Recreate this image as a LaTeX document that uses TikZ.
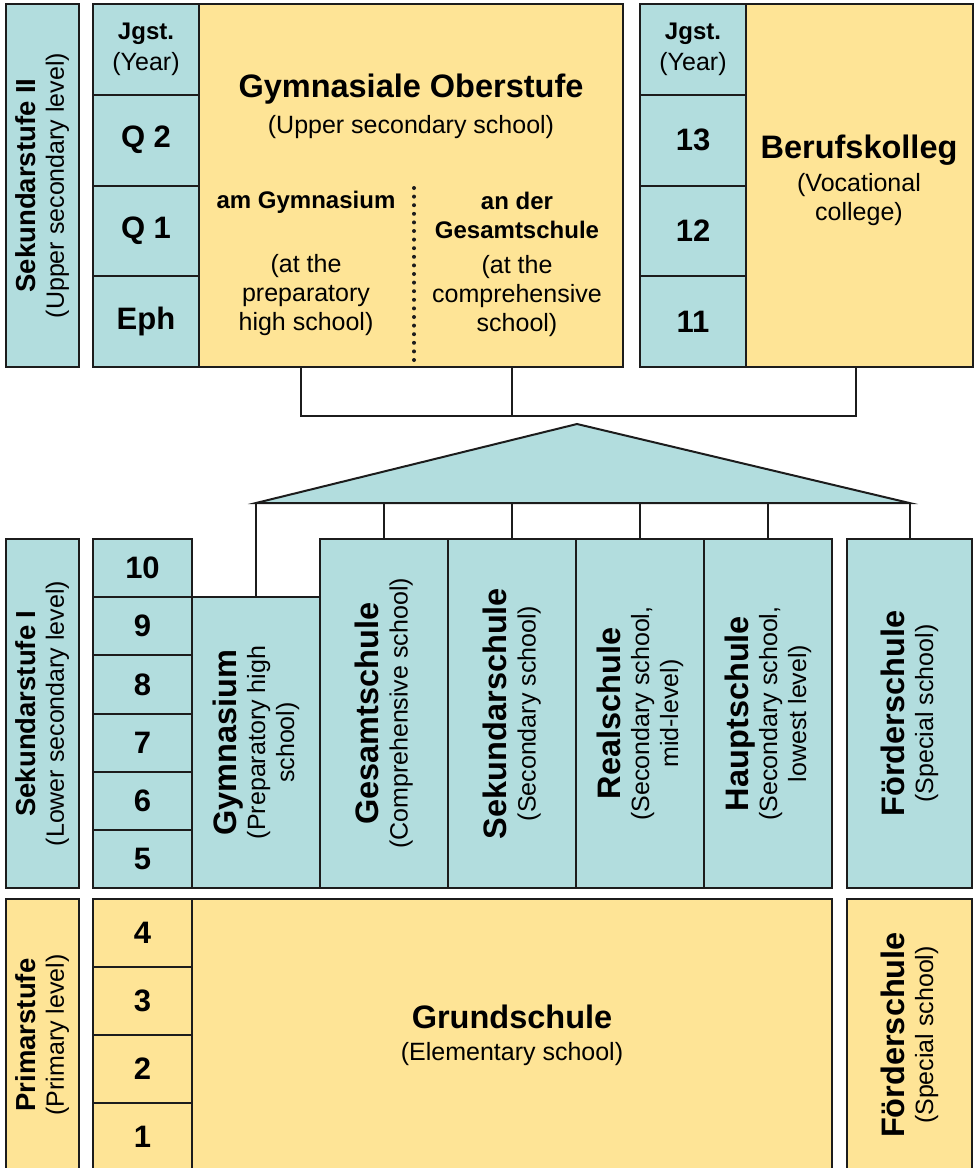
\documentclass[tikz,border=0pt]{standalone}
\usepackage{fontspec}
\setmainfont{Liberation Sans}
\usetikzlibrary{positioning}

\definecolor{tealfill}{RGB}{178,221,222}
\definecolor{sandfill}{RGB}{254,228,150}
\definecolor{edge}{RGB}{28,28,28}

\newcommand{\plainfont}{\fontsize{25}{29}\selectfont}
\newcommand{\headfont}{\fontsize{32.5}{36}\selectfont\bfseries}
\newcommand{\labelfont}{\fontsize{27.5}{31}\selectfont\bfseries}
\newcommand{\midfont}{\fontsize{24}{29}\selectfont\bfseries}
\newcommand{\numfont}{\fontsize{31}{36}\selectfont\bfseries}

\tikzset{
  box/.style={draw=edge,line width=2pt,outer sep=0pt,inner sep=0pt,align=center,font=\plainfont},
  tealbox/.style={box,fill=tealfill},
  sandbox/.style={box,fill=sandfill},
  yearbox/.style={tealbox,font=\numfont},
  txt/.style={align=center,inner sep=0pt,font=\plainfont},
  link/.style={draw=edge,line width=2pt}
}

\begin{document}
\begin{tikzpicture}[x=1pt,y=-1pt]
  \useasboundingbox (0,0) rectangle (979,1168);
  \clip (0,0) rectangle (979,1168);

  % Sekundarstufe II
  \node[tealbox,rotate=90,minimum width=363,minimum height=73] (sek2) at (42.5,185.5)
    {{\labelfont Sekundarstufe II}\\[-1pt](Upper secondary level)};
  \node[tealbox,anchor=north west,minimum width=106,minimum height=90.75] (jgA) at (93,4)
    {{\midfont Jgst.}\\[2pt](Year)};
  \node[yearbox,below=0pt of jgA,minimum width=106,minimum height=90.75] (q2) {Q 2};
  \node[yearbox,below=0pt of q2,minimum width=106,minimum height=90.75] (q1) {Q 1};
  \node[yearbox,below=0pt of q1,minimum width=106,minimum height=90.75] (eph) {Eph};
  \node[sandbox,anchor=north west,minimum width=424,minimum height=363] (gos) at (199,4) {};
  \node[txt] (gostitle) at (411,106) {{\headfont Gymnasiale Oberstufe}\\[7pt](Upper secondary school)};
  \node[txt,font=\midfont] (amgym) at (306,202) {am Gymnasium};
  \node[txt] (amgymen) at (306,295) {(at the\\preparatory\\high school)};
  \node[txt,font=\midfont] (anges) at (517,215) {an der\\Gesamtschule};
  \node[txt] (angesen) at (517,296) {(at the\\comprehensive\\school)};
  \draw[edge,line width=4pt,line cap=round,dash pattern=on 0pt off 8.6pt] (414,188) -- (414,361);

  \node[tealbox,anchor=north west,minimum width=106,minimum height=90.75] (jgB) at (640,4)
    {{\midfont Jgst.}\\[2pt](Year)};
  \node[yearbox,below=0pt of jgB,minimum width=106,minimum height=90.75] (y13) {13};
  \node[yearbox,below=0pt of y13,minimum width=106,minimum height=90.75] (y12) {12};
  \node[yearbox,below=0pt of y12,minimum width=106,minimum height=90.75] (y11) {11};
  \node[sandbox,anchor=north west,minimum width=227,minimum height=363] (bk) at (746,4) {};
  \node[txt] (bktitle) at (859,180) {{\headfont Berufskolleg}\\[4pt](Vocational\\college)};

  % join lines
  \coordinate (joinL) at (301,416);
  \coordinate (joinM) at (512,416);
  \coordinate (joinR) at (856,416);
  \draw[link] (joinL |- gos.south) -- (joinL) -- (joinR) -- (joinR |- bk.south);
  \draw[link] (joinM |- gos.south) -- (joinM);

  % Sekundarstufe I
  \node[tealbox,rotate=90,minimum width=349,minimum height=73] (sek1) at (42.5,713.5)
    {{\labelfont Sekundarstufe I}\\[-1pt](Lower secondary level)};
  \node[yearbox,anchor=north west,minimum width=99,minimum height=58.17] (y10) at (93,539) {10};
  \foreach \n [remember=\n as \m (initially 10)] in {9,8,7,6,5}
    \node[yearbox,below=0pt of y\m,minimum width=99,minimum height=58.17] (y\n) {\n};
  \node[tealbox,rotate=90,minimum width=291,minimum height=128] (gym) at (256,742.5)
    {{\headfont Gymnasium}\\(Preparatory high\\school)};
  \node[tealbox,rotate=90,minimum width=349,minimum height=128] (ges) at (384,713.5)
    {{\headfont Gesamtschule}\\(Comprehensive school)};
  \node[tealbox,rotate=90,minimum width=349,minimum height=128] (sek) at (512,713.5)
    {{\headfont Sekundarschule}\\(Secondary school)};
  \node[tealbox,rotate=90,minimum width=349,minimum height=128] (real) at (640,713.5)
    {{\headfont Realschule}\\(Secondary school,\\mid-level)};
  \node[tealbox,rotate=90,minimum width=349,minimum height=128] (haupt) at (768,713.5)
    {{\headfont Hauptschule}\\(Secondary school,\\lowest level)};
  \node[tealbox,rotate=90,minimum width=349,minimum height=125] (foeA) at (909.5,713.5)
    {{\headfont Förderschule}\\(Special school)};

  % triangle
  \coordinate (base) at (0,503);
  \coordinate (apex) at (577,424);
  \draw[link,fill=tealfill,line join=miter] (gym.east |- base) -- (apex) -- (foeA.east |- base) -- cycle;
  \foreach \s in {gym,ges,sek,real,haupt,foeA}
    \draw[link] (\s.east |- base) -- (\s.east);

  % Primarstufe
  \node[sandbox,rotate=90,minimum width=272,minimum height=73] (prim) at (42.5,1035)
    {{\labelfont Primarstufe}\\[-1pt](Primary level)};
  \node[sandbox,font=\numfont,anchor=north west,minimum width=99,minimum height=68] (p4) at (93,899) {4};
  \foreach \n [remember=\n as \m (initially 4)] in {3,2,1}
    \node[sandbox,font=\numfont,below=0pt of p\m,minimum width=99,minimum height=68] (p\n) {\n};
  \node[sandbox,minimum width=640,minimum height=272] (grund) at (512,1035)
    {{\headfont Grundschule}\\[3pt](Elementary school)};
  \node[sandbox,rotate=90,minimum width=272,minimum height=125] (foeB) at (909.5,1035)
    {{\headfont Förderschule}\\(Special school)};
\end{tikzpicture}
\end{document}
